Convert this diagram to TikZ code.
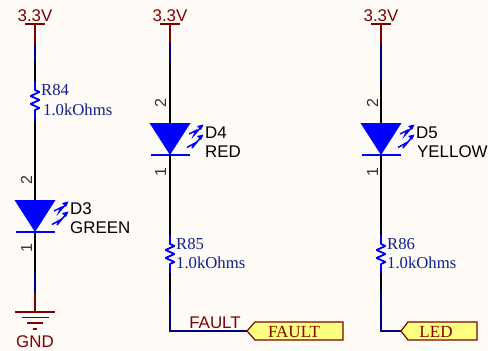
\documentclass[tikz,border=0pt]{standalone}
\usepackage{fontspec}
\setmainfont{Liberation Serif}
\setsansfont{Liberation Sans}
\usepackage{xcolor}
\usepackage{tikz}
\definecolor{bg}{HTML}{FFFCF8}
\definecolor{power}{HTML}{800000}
\definecolor{net}{HTML}{000080}
\definecolor{part}{HTML}{0000FF}
\definecolor{value}{HTML}{10208C}
\definecolor{pinnum}{HTML}{333333}
\definecolor{portbg}{HTML}{FFFF80}
\tikzset{
  powerline/.style={draw=power, line width=1.7pt},
  netline/.style={draw=net, line width=1.7pt},
  pinline/.style={draw=black, line width=1.7pt},
  partline/.style={draw=part, line width=1.8pt, line join=bevel},
  portbox/.style={draw=power, fill=portbg, line width=1.2pt},
  labsans/.style={inner sep=0pt, anchor=base west, font=\fontsize{16.9}{18}\selectfont\sffamily},
  labserif/.style={inner sep=0pt, anchor=base west, text=value, font=\fontsize{16.7}{18}\selectfont},
  labpower/.style={inner sep=0pt, anchor=base, text=power, font=\fontsize{16.9}{18}\selectfont\sffamily},
  labport/.style={inner sep=0pt, anchor=base, text=power, font=\fontsize{17}{18}\selectfont},
  labpin/.style={inner sep=0pt, anchor=base, rotate=90, text=pinnum, font=\fontsize{16}{18}\selectfont\sffamily},
  ledsym/.pic={
    \fill[part] (-20.5,0) -- (20.5,0) -- (0,32) -- cycle;
    \draw[partline] (-19.5,32) -- (19.5,32);
    \draw[part, line width=1.5pt] (19,11) -- (26,7.5) -- (24,12) -- (32,3);
    \fill[part] (33.5,1.5) -- (27,3) -- (31,7) -- cycle;
    \draw[part, line width=1.5pt] (17,24.5) -- (25,20) -- (22,25) -- (32,13);
    \fill[part] (33.5,11.5) -- (27,13) -- (31,17) -- cycle;
  },
  resistor/.pic={
    \draw[partline] (0,0) -- (0,9) -- (4.5,11) -- (-4.5,15) -- (4.5,19) -- (-4.5,23) -- (4.5,27) -- (0,29) -- (0,38);
  },
}
\begin{document}
\begin{tikzpicture}[x=1pt, y=-1pt]
  \fill[bg] (0,0) rectangle (488,351);
  \useasboundingbox (0,0) rectangle (488,351);

  % first branch
  \coordinate (a0) at (35,24);
  \coordinate (a1) at (35,43);
  \coordinate (a2) at (35,62);
  \coordinate (a3) at (35,81);
  \coordinate (a4) at (35,119);
  \coordinate (a5) at (35,273);
  \coordinate (a6) at (35,293);
  \coordinate (a7) at (35,312);
  \draw[powerline] (a0) -- (a1);
  \draw[netline] (a1) -- (a2);
  \draw[pinline] (a2) -- (a3);
  \draw[pinline] (a4) -- (a5);
  \draw[netline] (a5) -- (a6);
  \draw[powerline] (a6) -- (a7);
  \draw[powerline] (25,24) -- (45,24);
  \draw[powerline] (15,312) -- (55,312);
  \draw[powerline] (22,317.5) -- (49,317.5);
  \draw[powerline] (27,323) -- (43,323);
  \draw[powerline] (33,329) -- (37,329);
  \pic at (a3) {resistor};
  \pic at (35,200) {ledsym};
  \node[labpower] (vcca) at (35,21) {3.3V};
  \node[labserif] (r84) at (41,95) {R84};
  \node[labserif] (r84v) at (43,115) {1.0kOhms};
  \node[labpin] (d3b) at (32,180) {2};
  \node[labpin] (d3a) at (32,248) {1};
  \node[labsans] (d3) at (70,214) {D3};
  \node[labsans] (d3v) at (70,233) {GREEN};
  \node[labpower] (gnd) at (35,347) {GND};

  % second branch
  \coordinate (b0) at (170,24);
  \coordinate (b1) at (170,43);
  \coordinate (b2) at (170,62);
  \coordinate (b3) at (170,235);
  \coordinate (b4) at (170,273);
  \coordinate (b5) at (170,293);
  \coordinate (b6) at (170,331);
  \coordinate (b7) at (247,331);
  \draw[powerline] (b0) -- (b1);
  \draw[netline] (b1) -- (b2);
  \draw[pinline] (b2) -- (b3);
  \draw[pinline] (b4) -- (b5);
  \draw[netline, line join=miter] (b5) -- (b6) -- (b7);
  \draw[powerline] (160,24) -- (180,24);
  \pic at (b3) {resistor};
  \pic at (170,123) {ledsym};
  \draw[portbox] (b7) -- (255,322) -- (343,322) -- (343,340) -- (255,340) -- cycle;
  \node[labpower] (vccb) at (170,21) {3.3V};
  \node[labpin] (d4b) at (166,103) {2};
  \node[labpin] (d4a) at (166,172) {1};
  \node[labsans] (d4) at (205,138) {D4};
  \node[labsans] (d4v) at (205,157) {RED};
  \node[labserif] (r85) at (176,249) {R85};
  \node[labserif] (r85v) at (176,268) {1.0kOhms};
  \node[labpower] (netfault) at (215,328) {FAULT};
  \node[labport] (fault) at (294,337) {FAULT};

  % third branch
  \coordinate (c0) at (381,24);
  \coordinate (c1) at (381,43);
  \coordinate (c2) at (381,81);
  \coordinate (c3) at (381,235);
  \coordinate (c4) at (381,273);
  \coordinate (c5) at (381,293);
  \coordinate (c6) at (381,331);
  \coordinate (c7) at (401,331);
  \draw[powerline] (c0) -- (c1);
  \draw[netline] (c1) -- (c2);
  \draw[pinline] (c2) -- (c3);
  \draw[pinline] (c4) -- (c5);
  \draw[netline, line join=miter] (c5) -- (c6) -- (c7);
  \draw[powerline] (371,24) -- (391,24);
  \pic at (c3) {resistor};
  \pic at (381,123) {ledsym};
  \draw[portbox] (c7) -- (408,322) -- (477,322) -- (477,340) -- (408,340) -- cycle;
  \node[labpower] (vccc) at (381,21) {3.3V};
  \node[labpin] (d5b) at (378,103) {2};
  \node[labpin] (d5a) at (378,172) {1};
  \node[labsans] (d5) at (416,138) {D5};
  \node[labsans] (d5v) at (417,157) {YELLOW};
  \node[labserif] (r86) at (387,249) {R86};
  \node[labserif] (r86v) at (387,268) {1.0kOhms};
  \node[labport] (led) at (436,337) {LED};
\end{tikzpicture}
\end{document}
